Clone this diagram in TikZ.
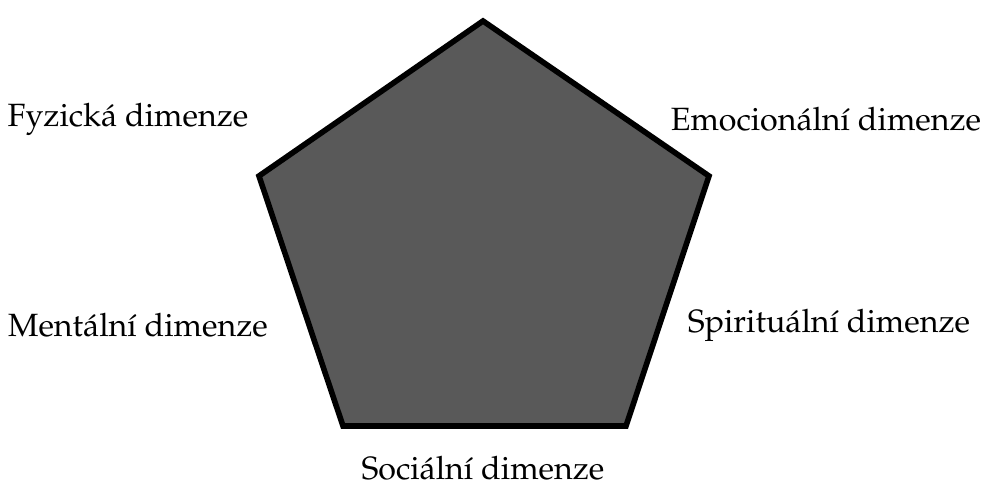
\documentclass[tikz,border=0pt]{standalone}
\usepackage[T1]{fontenc}
\usepackage{mathpazo}
\usepackage{tikz}
\definecolor{pentfill}{RGB}{89, 89, 89}

\begin{document}
\begin{tikzpicture}[
      x=0.5pt, y=-0.5pt,
      dim/.style={font=\fontsize{16.1}{19}\selectfont, inner sep=0pt, anchor=center},
      pent/.style={draw=black, fill=pentfill, line width=2.8pt, line join=miter},
    ]
    \useasboundingbox (0,0) rectangle (998,486);
    %% corners of the pentagon
    \coordinate (p-top) at (483, 21);
    \coordinate (p-right) at (709, 176);
    \coordinate (p-br) at (626, 426);
    \coordinate (p-bl) at (343, 426);
    \coordinate (p-left) at (259, 176);
    \draw[pent] (p-top) -- (p-right) -- (p-br) -- (p-bl) -- (p-left) -- cycle;

    %% labels
    \node[dim] (fyz) at (128, 119) {Fyzick\'a dimenze};
    \node[dim] (emo) at (826, 119) {Emocion\'aln\'{\i} dimenze};
    \node[dim] (men) at (138, 325) {Ment\'aln\'{\i} dimenze};
    \node[dim] (spi) at (829, 325) {Spiritu\'aln\'{\i} dimenze};
    \node[dim] (soc) at (483, 468) {Soci\'aln\'{\i} dimenze};
\end{tikzpicture}
\end{document}
